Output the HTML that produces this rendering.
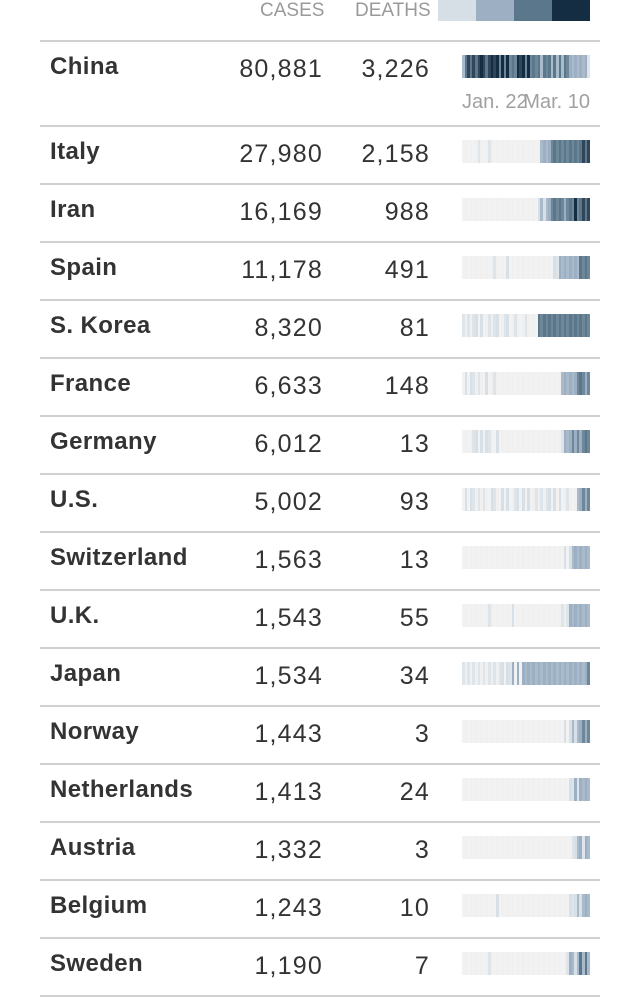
<!DOCTYPE html>
<html><head><meta charset="utf-8"><style>
body{margin:0;background:#fff;width:640px;height:997px;position:relative;overflow:hidden;font-family:"Liberation Sans",sans-serif;color:#333}
.h{position:absolute;top:0;font-size:19px;color:#9a9a9a;line-height:21px}
.line{position:absolute;left:40px;width:560px;height:2px;background:#d0d0d0}
.n{position:absolute;left:50px;font-weight:bold;font-size:24px;line-height:28px;letter-spacing:0.4px}
.c{position:absolute;width:140px;text-align:right;font-size:25px;line-height:28px;letter-spacing:1.2px}
.s{position:absolute;left:462px;width:128px;height:23px;display:flex}
.s div{flex:1}
.s div:nth-child(odd){opacity:.88}
.lab{position:absolute;top:91px;font-size:20px;color:#a0a0a0}
</style></head><body>
<div class="h" style="left:260px">CASES</div>
<div class="h" style="left:355px">DEATHS</div>
<div style="position:absolute;left:438px;top:0;width:152px;height:21px;display:flex">
<div style="flex:1;background:#d6dee6"></div><div style="flex:1;background:#9db0c3"></div><div style="flex:1;background:#5b778b"></div><div style="flex:1;background:#142d42"></div></div>
<div class="lab" style="left:462px">Jan. 22</div>
<div class="lab" style="right:50px">Mar. 10</div>
<div id="rows"></div>
<script>
var cols=['#f0f0f0','#d8e0e7','#9db0c3','#5b778b','#142d42'];
var d=[
["China","80,881","3,226","2343434443444434343334443433332333232323322222221"],
["Italy","27,980","2,158","0000001000100000000000000000002222333333333333434"],
["Iran","16,169","988","0000000000000000000000000000012122333332333433434"],
["Spain","11,178","491","0000000000001000010000000000000000011222222223333"],
["S. Korea","8,320","81","1010110100101100110010001000033333333333333333333"],
["France","6,633","148","0101101001001000000000000000000000000022222233323"],
["Germany","6,012","13","0000110101100100000000000000000000000012223232333"],
["U.S.","5,002","93","0101101010011001010011010100101011010100100022323"],
["Switzerland","1,563","13","0000000000000000000000000000000000000001012222222"],
["U.K.","1,543","55","0000000000100000000100000000000000000010122222222"],
["Japan","1,534","34","1010101010101011011202022222222222222222222222223"],
["Norway","1,443","3","0000000000000000000000000000000000000001012122323"],
["Netherlands","1,413","24","0000000000000000000000000000000000000000011212222"],
["Austria","1,332","3","0000000000000000000000000000000000000000001122122"],
["Belgium","1,243","10","0000000000000100000000000000000000000000011121222"],
["Sweden","1,190","7","0000000000100000000000000000000000000000122123232"]];
var h='',y=40;
d.forEach(function(r,i){
 h+='<div class="line" style="top:'+y+'px"></div>';
 var t=y+13;
 h+='<div class="n" style="top:'+t+'px">'+r[0]+'</div>';
 h+='<div class="c" style="left:183px;top:'+(t+2)+'px">'+r[1]+'</div>';
 h+='<div class="c" style="left:290px;top:'+(t+2)+'px">'+r[2]+'</div>';
 h+='<div class="s" style="top:'+(y+15)+'px">';
 for(var k=0;k<r[3].length;k++)h+='<div style="background:'+cols[+r[3][k]]+'"></div>';
 h+='</div>';
 y+= i==0?85:58;
});
h+='<div class="line" style="top:'+y+'px"></div>';
document.getElementById('rows').innerHTML=h;
</script>
</body></html>
